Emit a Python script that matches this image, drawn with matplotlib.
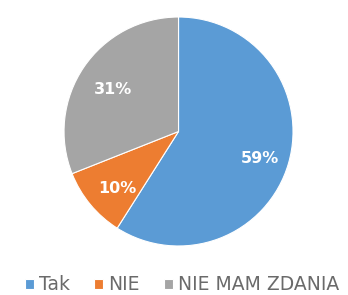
import matplotlib.pyplot as plt

labels = ["Tak", "NIE", "NIE MAM ZDANIA"]
values = [59, 10, 31]
colors = ["#5B9BD5", "#ED7D31", "#A5A5A5"]

fig = plt.figure(figsize=(3.48, 2.95), dpi=100)
ax = fig.add_axes([0.184, 0.1661, 0.658, 0.7763])

wedges, texts, autotexts = ax.pie(values, colors=colors, startangle=90, counterclock=False,
                                  autopct=lambda p: '%d%%' % round(p), pctdistance=0.72,
                                  wedgeprops={'edgecolor': 'white', 'linewidth': 0.8},
                                  textprops={'color': 'white', 'fontsize': 11.5, 'fontweight': 'semibold'})
for t in autotexts:
    x, y = t.get_position()
    t.set_position((x + 0.02, y - 0.035))
ax.set_xlim(-1, 1)
ax.set_ylim(-1, 1)

fig.legend(wedges, labels, loc='center', bbox_to_anchor=(0.523, 0.034), ncol=3, frameon=False,
           fontsize=13.5, handlelength=0.48, handleheight=0.48, handletextpad=0.27, columnspacing=1.28,
           labelcolor='#6a6a6a')

fig.savefig('out.png', dpi=100)
